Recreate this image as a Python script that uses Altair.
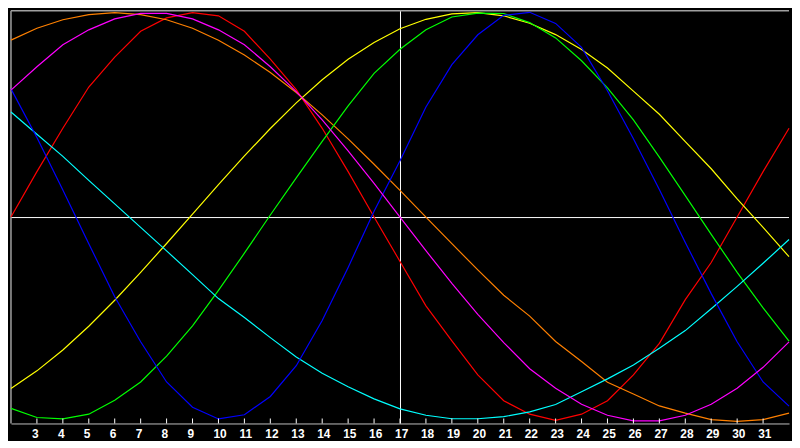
import altair as alt
import pandas as pd

# x positions (integer steps)
xs = list(range(2, 33))

red = [0, 0.22, 0.43, 0.63, 0.775, 0.90, 0.965, 0.99, 0.975, 0.90, 0.765, 0.617, 0.43, 0.22, 0,
       -0.215, -0.43, -0.60, -0.765, -0.89, -0.955, -0.985, -0.955, -0.89, -0.765, -0.612, -0.40,
       -0.22, 0, 0.22, 0.43]
orange = [0.857, 0.915, 0.956, 0.981, 0.99, 0.981, 0.956, 0.915, 0.857, 0.785, 0.70, 0.603, 0.495,
          0.379, 0.256, 0.129, 0, -0.129, -0.256, -0.379, -0.48, -0.603, -0.70, -0.80, -0.857,
          -0.915, -0.95, -0.981, -0.99, -0.981, -0.95]
yellow = [-0.831, -0.745, -0.644, -0.529, -0.403, -0.268, -0.128, 0.014, 0.157, 0.296, 0.429, 0.553,
          0.665, 0.764, 0.846, 0.912, 0.958, 0.984, 0.990, 0.975, 0.939, 0.884, 0.812, 0.722, 0.61,
          0.498, 0.365, 0.234, 0.088, -0.050, -0.192]
green = [-0.927, -0.971, -0.978, -0.955, -0.888, -0.799, -0.674, -0.527, -0.355, -0.175, 0.01, 0.19,
         0.367, 0.539, 0.696, 0.813, 0.907, 0.969, 0.988, 0.986, 0.942, 0.868, 0.757, 0.626, 0.471,
         0.29, 0.104, -0.084, -0.268, -0.44, -0.601]
cyan = [0.509, 0.401, 0.294, 0.178, 0.064, -0.050, -0.164, -0.279, -0.395, -0.487, -0.584, -0.678,
        -0.757, -0.822, -0.881, -0.929, -0.960, -0.977, -0.977, -0.967, -0.944, -0.908, -0.846,
        -0.784, -0.717, -0.636, -0.550, -0.444, -0.336, -0.224, -0.109]
blue = [0.621, 0.385, 0.131, -0.129, -0.386, -0.604, -0.799, -0.921, -0.978, -0.958, -0.869, -0.72,
        -0.501, -0.244, 0.028, 0.273, 0.533, 0.738, 0.883, 0.977, 0.992, 0.938, 0.822, 0.612, 0.379,
        0.133, -0.123, -0.371, -0.604, -0.799, -0.916]
magenta = [0.615, 0.728, 0.835, 0.907, 0.960, 0.987, 0.987, 0.960, 0.907, 0.835, 0.728, 0.608, 0.471,
           0.321, 0.163, 0, -0.163, -0.321, -0.471, -0.608, -0.735, -0.829, -0.907, -0.960, -0.987,
           -0.987, -0.960, -0.907, -0.829, -0.728, -0.605]

series_names = ["red", "orange", "yellow", "green", "cyan", "blue", "magenta"]
series_values = [red, orange, yellow, green, cyan, blue, magenta]
series_colors = ["#ff0000", "#ff8000", "#ffff00", "#00ff00", "#00ffff", "#0000ff", "#ff00ff"]

tick_labels = list(range(3, 32))

W, H = 784, 416

rows = []
for name, vals in zip(series_names, series_values):
    for x, v in zip(xs, vals):
        rows.append({"x": x, "v": v, "s": name})
df = pd.DataFrame(rows)

xscale = alt.Scale(domain=[2, 32], nice=False, zero=False)
yscale = alt.Scale(domain=[-1, 1], nice=False, zero=False)

xaxis = alt.Axis(
    values=tick_labels, tickSize=0, grid=False, title=None,
    domainColor="#c0c0c0", domainWidth=1,
    labelColor="white", labelFont="Liberation Sans", labelFontWeight="bold",
    labelFontSize=12, labelAlign="left", labelOffset=-5.5, labelBaseline="top",
    labelPadding=5, labelFlush=False, labelOverlap=False,
)

lines = alt.Chart(df).mark_line(strokeWidth=1.2, interpolate="linear").encode(
    x=alt.X("x:Q", scale=xscale, axis=xaxis),
    y=alt.Y("v:Q", scale=yscale, axis=None),
    color=alt.Color("s:N", scale=alt.Scale(domain=series_names, range=series_colors), legend=None),
    detail="s:N",
    order="x:Q",
)

hline = alt.Chart(pd.DataFrame({"h": [0]})).mark_rule(color="white", strokeWidth=1, yOffset=0.5).encode(
    y=alt.Y("h:Q", scale=yscale, axis=None)
)
vline = alt.Chart(pd.DataFrame({"c": [17]})).mark_rule(color="white", strokeWidth=1, xOffset=0.5).encode(
    x=alt.X("c:Q", scale=xscale, axis=xaxis)
)
top_border = alt.Chart(pd.DataFrame({"t": [1]})).mark_rule(color="#a0a0a0", strokeWidth=1.5).encode(
    y=alt.Y("t:Q", scale=yscale, axis=None)
)
left_border = alt.Chart(pd.DataFrame({"l": [2]})).mark_rule(color="#a0a0a0", strokeWidth=1.5).encode(
    x=alt.X("l:Q", scale=xscale, axis=xaxis)
)
ticks = alt.Chart(pd.DataFrame({"k": tick_labels})).mark_rule(color="white", strokeWidth=1).encode(
    x=alt.X("k:Q", scale=xscale, axis=xaxis),
    y=alt.value(H - 5),
    y2=alt.value(H),
)

chart = alt.layer(hline, vline, top_border, left_border, lines, ticks).properties(
    width=W, height=H, padding=0, background="black"
).configure_view(strokeWidth=0, fill="black")

chart.save("out.html", embed_options={"renderer": "svg", "actions": False})
